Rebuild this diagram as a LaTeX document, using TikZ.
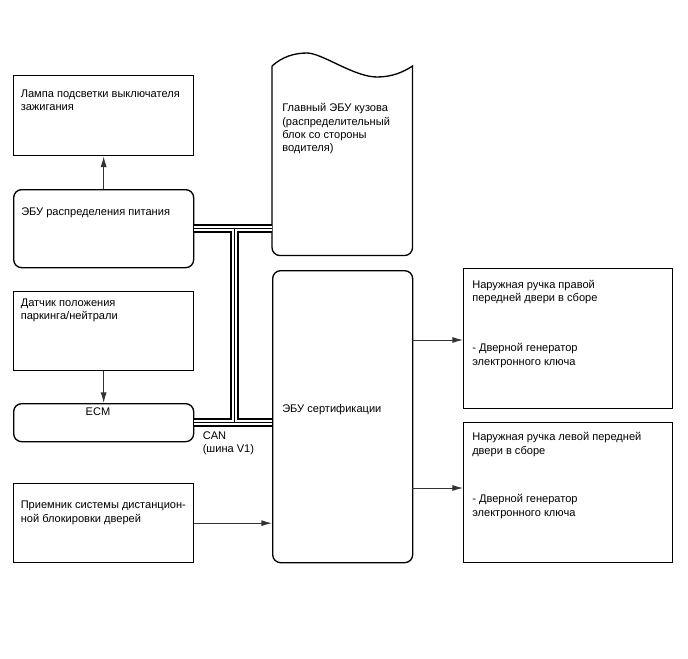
\documentclass[tikz,border=0pt]{standalone}
\usepackage{fontspec}
\setmainfont{Liberation Sans}
\usetikzlibrary{arrows.meta,calc}
\begin{document}
\begin{tikzpicture}[x=0.75pt,y=-0.75pt,
 box/.style={draw, line width=1pt, inner sep=0, anchor=north west},
 rbox/.style={box, rounded corners=6pt},
 txt/.style={font=\fontsize{8.3}{10}\selectfont, align=left, inner sep=0, anchor=base west},
 arr/.style={draw=black!80, line width=0.7pt, -{Latex[length=8pt,width=4.5pt]}},
 busout/.style={line width=6.4pt, black},
 busmid/.style={line width=4.2pt, white},
 buscore/.style={line width=1.1pt, black}]
\useasboundingbox (0,0) rectangle (688,658);
% nodes (boxes)
\node[box, minimum width=135pt, minimum height=60pt] (lamp) at (13,75) {};
\node[rbox, minimum width=135pt, minimum height=58.5pt] (pwr) at (13,189) {};
\node[box, minimum width=135pt, minimum height=59.25pt] (sens) at (13,291) {};
\node[rbox, minimum width=135pt, minimum height=28.5pt] (ecm) at (13,403) {};
\node[box, minimum width=135pt, minimum height=59.25pt] (recv) at (13,483) {};
\node[inner sep=0, minimum width=105pt, minimum height=141.75pt, anchor=north west] (body) at (272,66) {};
\node[rbox, minimum width=105pt, minimum height=219pt] (cert) at (272,270) {};
\node[box, minimum width=156.75pt, minimum height=105pt] (rdoor) at (463,268) {};
\node[box, minimum width=156.75pt, minimum height=105pt] (ldoor) at (463,422) {};
% wavy body ECU outline
\draw[line width=1pt] (body.north west)
  .. controls ($(body.north west)+(10,-9)$) and ($(body.north west)+(22,-13)$) .. ($(body.north west)+(35,-13)$)
  .. controls ($(body.north west)+(50,-13)$) and ($(body.north west)+(82,11)$) .. ($(body.north west)+(105,11)$)
  .. controls ($(body.north west)+(120,11)$) and ($(body.north east)+(-9,6)$) .. (body.north east)
  [rounded corners=6pt] -- (body.south east) -- (body.south west) -- (body.north west);
% CAN bus
\coordinate (jx) at (234.5,0);
\foreach \s in {busout,busmid,buscore}{
  \draw[\s] (pwr.east) -- (pwr.east -| body.west)
            (jx |- pwr.east) -- (jx |- ecm.east)
            (ecm.east) -- (ecm.east -| cert.west);
}
% texts (anchor = baseline of last line)
\node[txt] (tlamp) at (20.5,110.5) {Лампа подсветки выключателя\\зажигания};
\node[txt] (tpwr) at (21,215) {ЭБУ распределения питания};
\node[txt] (tsens) at (20.5,319.5) {Датчик положения\\паркинга/нейтрали};
\node[txt, anchor=base] (tecm) at (98,415) {ECM};
\node[txt] (trecv) at (20.5,522) {Приемник системы дистанцион-\\ной блокировки дверей};
\node[txt] (tbody) at (282,151.7) {Главный ЭБУ кузова\\(распределительный\\блок со стороны\\водителя)};
\node[txt] (tcert) at (282,412.5) {ЭБУ сертификации};
\node[txt] (tr1) at (472,301.7) {Наружная ручка правой\\передней двери в сборе};
\node[txt] (tr2) at (472,365) {- Дверной генератор\\электронного ключа};
\node[txt] (tl1) at (472,454) {Наружная ручка левой передней\\двери в сборе};
\node[txt] (tl2) at (472,516) {- Дверной генератор\\электронного ключа};
\node[txt] (tcan) at (202.5,452.5) {CAN\\(шина V1)};
% arrows
\draw[arr] (pwr.north) -- (lamp.south);
\draw[arr] (sens.south) -- (ecm.north);
\coordinate (a1) at (412,340);
\coordinate (a2) at (412,488);
\draw[arr] (a1) -- (a1 -| rdoor.west);
\draw[arr] (a2) -- (a2 -| ldoor.west);
\draw[arr] (recv.east) -- (recv.east -| cert.west);
\end{tikzpicture}
\end{document}
